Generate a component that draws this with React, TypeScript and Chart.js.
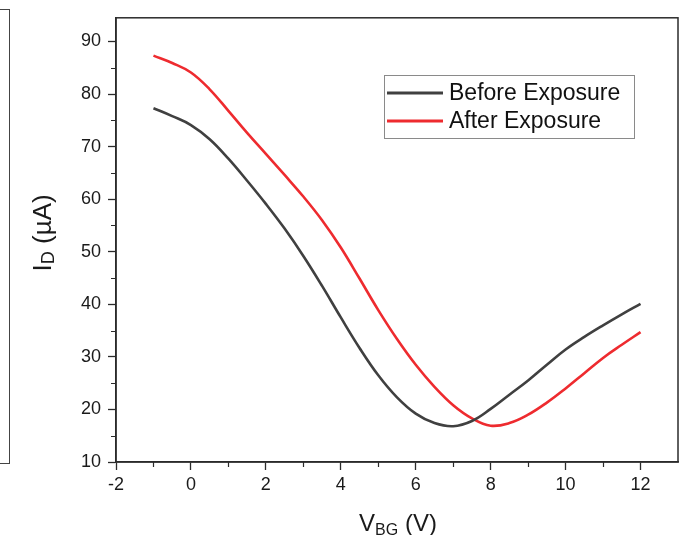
import React, { useEffect, useRef } from "react";
import { Chart, registerables } from "chart.js";

Chart.register(...registerables);

// ---- data ----
const vbg = [-1, -0.5, 0, 0.5, 1, 1.5, 2, 2.5, 3, 3.5, 4, 4.5, 5, 5.5, 6, 6.5, 7, 7.5, 8, 8.5, 9, 9.5, 10, 10.5, 11, 11.5, 12];
const beforeExposure = [77.3, 75.8, 74.1, 71.4, 67.7, 63.5, 59.1, 54.4, 49.2, 43.5, 37.5, 31.7, 26.5, 22.3, 19.2, 17.4, 16.8, 17.8, 20.1, 22.8, 25.5, 28.5, 31.4, 33.8, 36.0, 38.1, 40.1];
const afterExposure = [87.3, 85.9, 84.1, 80.9, 76.8, 72.6, 68.6, 64.6, 60.5, 56.0, 50.8, 44.9, 38.9, 33.4, 28.5, 24.3, 20.8, 18.3, 16.9, 17.4, 19.0, 21.3, 24.0, 26.9, 29.8, 32.3, 34.7];
const seriesLabels = ["Before Exposure", "After Exposure"];
const xTicks = [-2, 0, 2, 4, 6, 8, 10, 12];
const xMinorTicks = [-1, 1, 3, 5, 7, 9, 11];
const yTicks = [10, 20, 30, 40, 50, 60, 70, 80, 90];
const yMinorTicks = [15, 25, 35, 45, 55, 65, 75, 85];

const FONT = '"Liberation Sans", Arial, sans-serif';
const AXIS = "#2b2b2b";
const BLACK = "#404040";
const RED = "#ee2b2f";

type Seg = { t: string; size: number; dy: number };

function drawRich(ctx: CanvasRenderingContext2D, segs: Seg[]) {
  let w = 0;
  for (const s of segs) {
    ctx.font = `${s.size}px ${FONT}`;
    w += ctx.measureText(s.t).width;
  }
  let x = -w / 2;
  for (const s of segs) {
    ctx.font = `${s.size}px ${FONT}`;
    ctx.fillText(s.t, x, s.dy);
    x += ctx.measureText(s.t).width;
  }
}

const decorPlugin = {
  id: "decor",
  afterDraw(chart: any) {
    const { ctx, chartArea: a, scales } = chart;
    ctx.save();
    // frame
    ctx.strokeStyle = AXIS;
    ctx.lineWidth = 1.5;
    ctx.strokeRect(a.left, a.top, a.right - a.left, a.bottom - a.top);
    // minor ticks
    ctx.lineWidth = 1.2;
    ctx.beginPath();
    for (const v of xMinorTicks) {
      const px = Math.round(scales.x.getPixelForValue(v)) + 0.5;
      ctx.moveTo(px, a.bottom);
      ctx.lineTo(px, a.bottom + 5);
    }
    for (const v of yMinorTicks) {
      const py = Math.round(scales.y.getPixelForValue(v)) + 0.5;
      ctx.moveTo(a.left, py);
      ctx.lineTo(a.left - 5, py);
    }
    ctx.stroke();

    // axis titles
    ctx.fillStyle = "#1a1a1a";
    ctx.textBaseline = "alphabetic";
    ctx.textAlign = "left";
    ctx.save();
    ctx.translate((a.left + a.right) / 2 + 1, 531);
    drawRich(ctx, [
      { t: "V", size: 24, dy: 0 },
      { t: "BG", size: 16, dy: 4 },
      { t: " (V)", size: 24, dy: 0 },
    ]);
    ctx.restore();
    ctx.save();
    ctx.translate(51, (a.top + a.bottom) / 2 - 7);
    ctx.rotate(-Math.PI / 2);
    drawRich(ctx, [
      { t: "I", size: 26, dy: 0 },
      { t: "D", size: 18, dy: 3 },
      { t: " (\u00b5A)", size: 26, dy: 0 },
    ]);
    ctx.restore();

    // legend
    const lx = 384, ly = 75, lw = 250, lh = 63;
    ctx.strokeStyle = "#8a8a8a";
    ctx.lineWidth = 1;
    ctx.strokeRect(lx + 0.5, ly + 0.5, lw, lh);
    const ds = chart.data.datasets;
    const rows = [93, 121];
    ds.forEach((d: any, i: number) => {
      const y = rows[i];
      ctx.strokeStyle = d.borderColor;
      ctx.lineWidth = 3;
      ctx.beginPath();
      ctx.moveTo(lx + 3, y);
      ctx.lineTo(lx + 59, y);
      ctx.stroke();
      ctx.fillStyle = "#111";
      ctx.font = `23px ${FONT}`;
      ctx.textBaseline = "middle";
      ctx.fillText(d.label, lx + 65, y + 1);
    });
    ctx.restore();
  },
};

export default function App() {
  const ref = useRef<HTMLCanvasElement | null>(null);
  useEffect(() => {
    if (!ref.current) return;
    const chart = new Chart(ref.current, {
      type: "line",
      data: {
        datasets: [
          {
            label: seriesLabels[0],
            data: vbg.map((x, i) => ({ x, y: beforeExposure[i] })),
            borderColor: BLACK,
            borderWidth: 2.6,
            pointRadius: 0,
            tension: 0.4,
            fill: false,
          },
          {
            label: seriesLabels[1],
            data: vbg.map((x, i) => ({ x, y: afterExposure[i] })),
            borderColor: RED,
            borderWidth: 2.6,
            pointRadius: 0,
            tension: 0.4,
            fill: false,
          },
        ],
      },
      options: {
        responsive: false,
        animation: false,
        layout: { padding: { left: 0, right: 14, top: 10, bottom: 0 } },
        plugins: { legend: { display: false }, tooltip: { enabled: false } },
        scales: {
          x: {
            type: "linear",
            min: -2,
            max: 13,
            afterBuildTicks: (s: any) => {
              s.ticks = xTicks.map((v) => ({ value: v }));
            },
            afterFit: (s: any) => {
              s.height = 73;
            },
            grid: { drawOnChartArea: false, drawTicks: true, tickLength: 8, color: AXIS, tickWidth: 1.3 },
            border: { display: true, color: AXIS, width: 1.5 },
            ticks: {
              padding: 4,
              color: "#1a1a1a",
              font: { family: FONT, size: 18 },
              maxRotation: 0,
              callback: (v: any) => String(v),
            },
          },
          y: {
            type: "linear",
            min: 10,
            max: 94.5,
            afterBuildTicks: (s: any) => {
              s.ticks = yTicks.map((v) => ({ value: v }));
            },
            afterFit: (s: any) => {
              s.width = 116;
            },
            grid: { drawOnChartArea: false, drawTicks: true, tickLength: 8, color: AXIS, tickWidth: 1.3 },
            border: { display: true, color: AXIS, width: 1.5 },
            ticks: {
              padding: 7,
              color: "#1a1a1a",
              font: { family: FONT, size: 18 },
              callback: (v: any) => String(v),
            },
          },
        },
      },
      plugins: [decorPlugin],
    });
    return () => chart.destroy();
  }, []);

  return (
    <div style={{ position: "fixed", left: 0, top: 0, width: 692, height: 535, background: "#fff", overflow: "hidden" }}>
      <div
        style={{
          position: "absolute",
          left: 0,
          top: 9,
          width: 9,
          height: 453,
          borderTop: "1.5px solid #444",
          borderRight: "1.5px solid #444",
          borderBottom: "1.5px solid #444",
        }}
      />
      <canvas ref={ref} width={692} height={535} style={{ position: "absolute", left: 0, top: 0, display: "block" }} />
    </div>
  );
}
